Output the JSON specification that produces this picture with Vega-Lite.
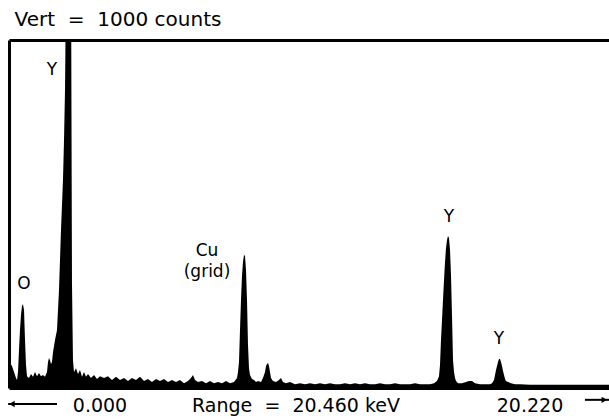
{
  "$schema": "https://vega.github.io/schema/vega-lite/v6.json",
  "width": 600,
  "height": 348,
  "autosize": {"type": "none"},
  "padding": {"left": 9, "top": 40, "right": 0, "bottom": 31},
  "background": "white",
  "config": {
    "view": {"stroke": null},
    "axis": {"domainColor": "black", "domainWidth": 3, "labels": false, "ticks": false, "grid": false, "title": null},
    "text": {"font": "DejaVu Sans", "color": "black"}
  },
  "datasets": {
    "spectrum": [
      {"keV": 0.000, "counts": 80}, {"keV": 0.034, "counts": 72}, {"keV": 0.102, "counts": 63}, {"keV": 0.171, "counts": 46},
      {"keV": 0.239, "counts": 29}, {"keV": 0.273, "counts": 23}, {"keV": 0.307, "counts": 46}, {"keV": 0.341, "counts": 109},
      {"keV": 0.375, "counts": 167}, {"keV": 0.409, "counts": 210}, {"keV": 0.443, "counts": 236}, {"keV": 0.477, "counts": 241},
      {"keV": 0.512, "counts": 224}, {"keV": 0.546, "counts": 138}, {"keV": 0.580, "counts": 66}, {"keV": 0.614, "counts": 34},
      {"keV": 0.682, "counts": 29}, {"keV": 0.750, "counts": 40}, {"keV": 0.818, "counts": 32}, {"keV": 0.887, "counts": 46},
      {"keV": 0.955, "counts": 34}, {"keV": 1.023, "counts": 43}, {"keV": 1.091, "counts": 34}, {"keV": 1.159, "counts": 37},
      {"keV": 1.228, "counts": 32}, {"keV": 1.296, "counts": 46}, {"keV": 1.330, "counts": 75}, {"keV": 1.364, "counts": 86},
      {"keV": 1.398, "counts": 80}, {"keV": 1.432, "counts": 69}, {"keV": 1.466, "counts": 75}, {"keV": 1.500, "counts": 103},
      {"keV": 1.569, "counts": 138}, {"keV": 1.637, "counts": 167}, {"keV": 1.705, "counts": 282}, {"keV": 1.773, "counts": 454},
      {"keV": 1.841, "counts": 598}, {"keV": 1.876, "counts": 713}, {"keV": 1.910, "counts": 857}, {"keV": 1.944, "counts": 1150},
      {"keV": 1.978, "counts": 1300}, {"keV": 2.080, "counts": 1300}, {"keV": 2.114, "counts": 1250}, {"keV": 2.148, "counts": 300},
      {"keV": 2.182, "counts": 80}, {"keV": 2.217, "counts": 46}, {"keV": 2.285, "counts": 57}, {"keV": 2.353, "counts": 40},
      {"keV": 2.421, "counts": 52}, {"keV": 2.489, "counts": 32}, {"keV": 2.558, "counts": 46}, {"keV": 2.626, "counts": 32},
      {"keV": 2.694, "counts": 40}, {"keV": 2.796, "counts": 29}, {"keV": 2.899, "counts": 37}, {"keV": 3.001, "counts": 26},
      {"keV": 3.103, "counts": 34}, {"keV": 3.240, "counts": 29}, {"keV": 3.376, "counts": 34}, {"keV": 3.512, "counts": 23},
      {"keV": 3.649, "counts": 32}, {"keV": 3.785, "counts": 23}, {"keV": 3.922, "counts": 29}, {"keV": 4.058, "counts": 20},
      {"keV": 4.194, "counts": 29}, {"keV": 4.331, "counts": 23}, {"keV": 4.467, "counts": 32}, {"keV": 4.604, "counts": 20},
      {"keV": 4.740, "counts": 26}, {"keV": 4.876, "counts": 17}, {"keV": 5.013, "counts": 26}, {"keV": 5.149, "counts": 20},
      {"keV": 5.286, "counts": 26}, {"keV": 5.422, "counts": 17}, {"keV": 5.558, "counts": 23}, {"keV": 5.695, "counts": 17},
      {"keV": 5.831, "counts": 23}, {"keV": 5.968, "counts": 14}, {"keV": 6.104, "counts": 20}, {"keV": 6.206, "counts": 29},
      {"keV": 6.274, "counts": 37}, {"keV": 6.343, "counts": 23}, {"keV": 6.445, "counts": 17}, {"keV": 6.581, "counts": 20},
      {"keV": 6.718, "counts": 14}, {"keV": 6.854, "counts": 20}, {"keV": 6.991, "counts": 14}, {"keV": 7.127, "counts": 17},
      {"keV": 7.263, "counts": 14}, {"keV": 7.400, "counts": 20}, {"keV": 7.536, "counts": 14}, {"keV": 7.673, "counts": 17},
      {"keV": 7.775, "counts": 29}, {"keV": 7.809, "counts": 46}, {"keV": 7.843, "counts": 75}, {"keV": 7.877, "counts": 167},
      {"keV": 7.911, "counts": 253}, {"keV": 7.945, "counts": 322}, {"keV": 7.979, "counts": 362}, {"keV": 8.014, "counts": 382},
      {"keV": 8.048, "counts": 379}, {"keV": 8.082, "counts": 339}, {"keV": 8.116, "counts": 253}, {"keV": 8.150, "counts": 124},
      {"keV": 8.184, "counts": 57}, {"keV": 8.218, "counts": 37}, {"keV": 8.286, "counts": 26}, {"keV": 8.355, "counts": 23},
      {"keV": 8.423, "counts": 17}, {"keV": 8.491, "counts": 20}, {"keV": 8.593, "counts": 17}, {"keV": 8.661, "counts": 29},
      {"keV": 8.730, "counts": 46}, {"keV": 8.764, "counts": 63}, {"keV": 8.798, "counts": 69}, {"keV": 8.832, "counts": 72},
      {"keV": 8.866, "counts": 63}, {"keV": 8.900, "counts": 46}, {"keV": 8.934, "counts": 29}, {"keV": 9.002, "counts": 20},
      {"keV": 9.105, "counts": 17}, {"keV": 9.207, "counts": 23}, {"keV": 9.275, "counts": 29}, {"keV": 9.343, "counts": 17},
      {"keV": 9.446, "counts": 14}, {"keV": 9.582, "counts": 17}, {"keV": 9.753, "counts": 11}, {"keV": 9.923, "counts": 14},
      {"keV": 10.094, "counts": 11}, {"keV": 10.264, "counts": 14}, {"keV": 10.435, "counts": 11}, {"keV": 10.605, "counts": 14},
      {"keV": 10.776, "counts": 11}, {"keV": 10.946, "counts": 14}, {"keV": 11.117, "counts": 11}, {"keV": 11.287, "counts": 11},
      {"keV": 11.458, "counts": 14}, {"keV": 11.628, "counts": 11}, {"keV": 11.799, "counts": 14}, {"keV": 11.969, "counts": 11},
      {"keV": 12.140, "counts": 14}, {"keV": 12.310, "counts": 11}, {"keV": 12.481, "counts": 11}, {"keV": 12.651, "counts": 14},
      {"keV": 12.822, "counts": 11}, {"keV": 12.992, "counts": 11}, {"keV": 13.163, "counts": 14}, {"keV": 13.333, "counts": 11},
      {"keV": 13.504, "counts": 11}, {"keV": 13.674, "counts": 11}, {"keV": 13.845, "counts": 14}, {"keV": 14.015, "counts": 11},
      {"keV": 14.186, "counts": 11}, {"keV": 14.356, "counts": 11}, {"keV": 14.493, "counts": 14}, {"keV": 14.595, "counts": 20},
      {"keV": 14.663, "counts": 34}, {"keV": 14.697, "counts": 66}, {"keV": 14.731, "counts": 138}, {"keV": 14.765, "counts": 195},
      {"keV": 14.799, "counts": 253}, {"keV": 14.834, "counts": 310}, {"keV": 14.868, "counts": 362}, {"keV": 14.902, "counts": 402},
      {"keV": 14.936, "counts": 425}, {"keV": 14.970, "counts": 437}, {"keV": 15.004, "counts": 431}, {"keV": 15.038, "counts": 397},
      {"keV": 15.072, "counts": 325}, {"keV": 15.106, "counts": 210}, {"keV": 15.141, "counts": 80}, {"keV": 15.175, "counts": 46},
      {"keV": 15.209, "counts": 29}, {"keV": 15.243, "counts": 20}, {"keV": 15.311, "counts": 14}, {"keV": 15.447, "counts": 14},
      {"keV": 15.584, "counts": 17}, {"keV": 15.686, "counts": 20}, {"keV": 15.788, "counts": 20}, {"keV": 15.891, "counts": 14},
      {"keV": 16.061, "counts": 11}, {"keV": 16.232, "counts": 11}, {"keV": 16.402, "counts": 11}, {"keV": 16.470, "counts": 14},
      {"keV": 16.539, "counts": 23}, {"keV": 16.573, "counts": 37}, {"keV": 16.607, "counts": 52}, {"keV": 16.641, "counts": 63},
      {"keV": 16.675, "counts": 75}, {"keV": 16.709, "counts": 83}, {"keV": 16.743, "counts": 83}, {"keV": 16.777, "counts": 75},
      {"keV": 16.811, "counts": 63}, {"keV": 16.846, "counts": 49}, {"keV": 16.880, "counts": 37}, {"keV": 16.914, "counts": 26},
      {"keV": 16.948, "counts": 20}, {"keV": 17.016, "counts": 17}, {"keV": 17.118, "counts": 14}, {"keV": 17.255, "counts": 11},
      {"keV": 17.425, "counts": 11}, {"keV": 17.766, "counts": 9}, {"keV": 18.107, "counts": 9}, {"keV": 18.448, "counts": 9},
      {"keV": 18.789, "counts": 9}, {"keV": 19.130, "counts": 9}, {"keV": 19.471, "counts": 9}, {"keV": 19.812, "counts": 9},
      {"keV": 20.153, "counts": 9}, {"keV": 20.460, "counts": 9}
    ],
    "peaks": [
      {"label": "Y", "keV": 1.466, "counts": 914},
      {"label": "O", "keV": 0.512, "counts": 299},
      {"label": "Cu", "keV": 6.752, "counts": 395},
      {"label": "(grid)", "keV": 6.752, "counts": 333},
      {"label": "Y", "keV": 15.004, "counts": 491},
      {"label": "Y", "keV": 16.709, "counts": 141}
    ],
    "footer": [
      {"label": "0.000", "keV": 3.103, "counts": -52},
      {"label": "Range\u00a0 =\u00a0 20.460 keV", "keV": 9.787, "counts": -52},
      {"label": "20.220", "keV": 17.766, "counts": -52}
    ],
    "title": [
      {"label": "Vert\u00a0 =\u00a0 1000 counts", "keV": 3.717, "counts": 1058}
    ],
    "arrows": [
      {"side": "left", "start": -0.03, "end": 1.637, "head": 0.1, "counts": -46, "shape": "triangle-left"},
      {"side": "right", "start": 19.64, "end": 20.46, "head": 20.3, "counts": -34, "shape": "triangle-right"}
    ]
  },
  "resolve": {"axis": {"x": "independent"}},
  "layer": [
    {
      "data": {"name": "spectrum"},
      "mark": {"type": "area", "color": "black", "clip": true, "interpolate": "linear"},
      "encoding": {
        "x": {"field": "keV", "type": "quantitative", "scale": {"domain": [0, 20.46], "nice": false, "zero": false}, "axis": {"orient": "bottom"}},
        "y": {"field": "counts", "type": "quantitative", "scale": {"domain": [0, 1000], "nice": false}, "axis": {"orient": "left"}}
      }
    },
    {
      "data": {"name": "peaks"},
      "mark": {"type": "text", "fontSize": 17, "align": "center", "baseline": "middle"},
      "encoding": {
        "x": {"field": "keV", "type": "quantitative", "axis": {"orient": "top"}},
        "y": {"field": "counts", "type": "quantitative"},
        "text": {"field": "label"}
      }
    },
    {
      "data": {"name": "footer"},
      "mark": {"type": "text", "fontSize": 19, "align": "center", "baseline": "middle"},
      "encoding": {
        "x": {"field": "keV", "type": "quantitative", "axis": null},
        "y": {"field": "counts", "type": "quantitative"},
        "text": {"field": "label"}
      }
    },
    {
      "data": {"name": "title"},
      "mark": {"type": "text", "fontSize": 20, "align": "center", "baseline": "middle"},
      "encoding": {
        "x": {"field": "keV", "type": "quantitative", "axis": null},
        "y": {"field": "counts", "type": "quantitative"},
        "text": {"field": "label"}
      }
    },
    {
      "data": {"name": "arrows"},
      "mark": {"type": "rule", "color": "black", "strokeWidth": 2},
      "encoding": {
        "x": {"field": "start", "type": "quantitative", "axis": null},
        "x2": {"field": "end"},
        "y": {"field": "counts", "type": "quantitative"}
      }
    },
    {
      "data": {"name": "arrows"},
      "mark": {"type": "point", "filled": true, "color": "black", "opacity": 1, "size": 40},
      "encoding": {
        "x": {"field": "head", "type": "quantitative", "axis": null},
        "y": {"field": "counts", "type": "quantitative"},
        "shape": {"field": "shape", "type": "nominal", "scale": {"domain": ["triangle-left", "triangle-right"], "range": ["triangle-left", "triangle-right"]}, "legend": null}
      }
    }
  ]
}
